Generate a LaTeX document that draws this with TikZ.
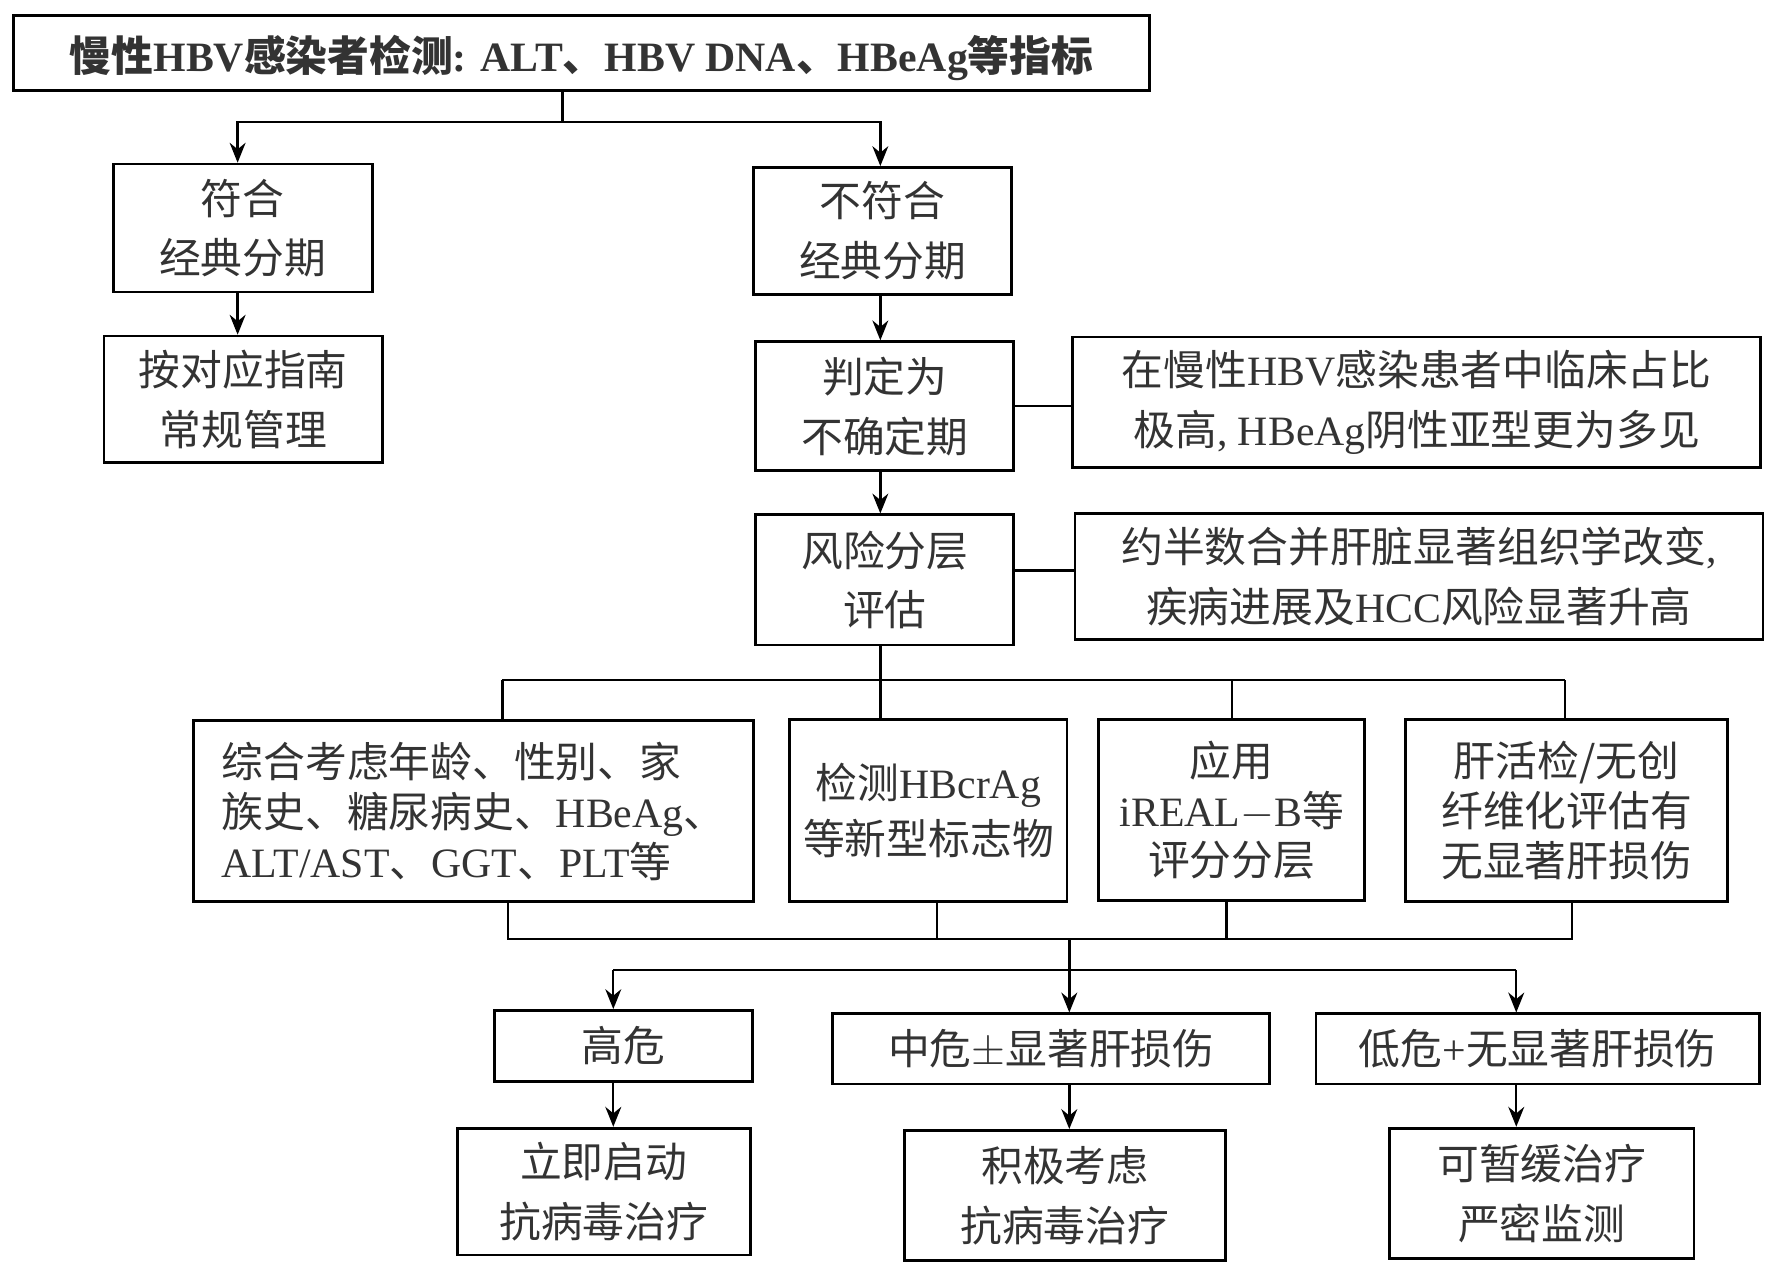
\documentclass[tikz,border=0pt]{standalone}
\usepackage{fontspec}
\setmainfont{Liberation Serif}
\newfontfamily\cjk{Noto Sans CJK SC}
\newcommand{\zh}[1]{{\cjk #1}}
\usetikzlibrary{arrows.meta}
\definecolor{tx}{HTML}{333333}
\begin{document}
\begin{tikzpicture}[x=0.01cm,y=-0.01cm,
  bx/.style={draw,line width=0.7pt,text=tx,align=center,font=\fontsize{10.5}{15}\selectfont},
  ar/.style={-{Stealth[length=5pt,width=4pt]},line width=0.6pt},
  ln/.style={line width=0.6pt}]
\useasboundingbox (0,0) rectangle (1566,1126);
\node[bx,minimum width=1004*0.01cm,minimum height=66*0.01cm,font=\fontsize{10.5}{12}\bfseries\selectfont,text depth=0pt] (top) at (514,47) {\zh{慢性}HBV\zh{感染者检测}: ALT\zh{、}HBV DNA\zh{、}HBeAg\zh{等指标}};
\node[bx,minimum width=229*0.01cm,minimum height=113*0.01cm] (fit) at (214.5,201.5) {\zh{符合}\\\zh{经典分期}};
\node[bx,minimum width=246*0.01cm,minimum height=112*0.01cm] (guide) at (215,353) {\zh{按对应指南}\\\zh{常规管理}};
\node[bx,minimum width=228*0.01cm,minimum height=112*0.01cm] (notfit) at (780,204) {\zh{不符合}\\\zh{经典分期}};
\node[bx,minimum width=228*0.01cm,minimum height=114*0.01cm] (indet) at (782,359) {\zh{判定为}\\\zh{不确定期}};
\node[bx,minimum width=608*0.01cm,minimum height=111*0.01cm] (n1) at (1252,355.5) {\zh{在慢性}HBV\zh{感染患者中临床占比}\\\zh{极高}, HBeAg\zh{阴性亚型更为多见}};
\node[bx,minimum width=228*0.01cm,minimum height=115*0.01cm] (risk) at (782,512.5) {\zh{风险分层}\\\zh{评估}};
\node[bx,minimum width=608*0.01cm,minimum height=111*0.01cm] (n2) at (1254,509.5) {\zh{约半数合并肝脏显著组织学改变},\\\zh{疾病进展及}HCC\zh{风险显著升高}};
\node[bx,align=left,minimum width=495*0.01cm,minimum height=160*0.01cm,font=\fontsize{10.5}{12.5}\selectfont] (b1) at (418.5,717) {\zh{综合考虑年龄、性别、家}\\\zh{族史、糖尿病史、}HBeAg\zh{、}\\ALT/AST\zh{、}GGT\zh{、}PLT\zh{等}};
\node[bx,minimum width=241*0.01cm,minimum height=161*0.01cm,font=\fontsize{10.5}{14}\selectfont] (b2) at (820.5,716.5) {\zh{检测}HBcrAg\\\zh{等新型标志物}};
\node[bx,minimum width=235*0.01cm,minimum height=160*0.01cm,font=\fontsize{10.5}{12.5}\selectfont] (b3) at (1088.5,716) {\zh{应用}\\iREAL$-$B\zh{等}\\\zh{评分分层}};
\node[bx,minimum width=285*0.01cm,minimum height=161*0.01cm,font=\fontsize{10.5}{12.5}\selectfont] (b4) at (1384.5,716.5) {\zh{肝活检/无创}\\\zh{纤维化评估有}\\\zh{无显著肝损伤}};
\node[bx,minimum width=228*0.01cm,minimum height=63*0.01cm] (hi) at (551,924.5) {\zh{高危}};
\node[bx,minimum width=386*0.01cm,minimum height=62*0.01cm] (mid) at (929,927) {\zh{中危}$\pm$\zh{显著肝损伤}};
\node[bx,minimum width=392*0.01cm,minimum height=62*0.01cm] (low) at (1359,927) {\zh{低危}+\zh{无显著肝损伤}};
\node[bx,minimum width=259*0.01cm,minimum height=112*0.01cm] (r1) at (533.5,1053) {\zh{立即启动}\\\zh{抗病毒治疗}};
\node[bx,minimum width=284*0.01cm,minimum height=115*0.01cm] (r2) at (941,1056.5) {\zh{积极考虑}\\\zh{抗病毒治疗}};
\node[bx,minimum width=269*0.01cm,minimum height=115*0.01cm] (r3) at (1362.5,1054.5) {\zh{可暂缓治疗}\\\zh{严密监测}};
% connectors
\coordinate (t1) at (497,108);
\draw[ln] (top.south -| t1) -- (t1);
\draw[ar] (t1) -| (fit.north -| 210,0);
\draw[ar] (t1) -| (notfit.north -| 778,0);
\draw[ar] (fit.south -| 210,0) -- (guide.north -| 210,0);
\draw[ar] (notfit.south -| 778,0) -- (indet.north -| 778,0);
\draw[ar] (indet.south -| 778,0) -- (risk.north -| 778,0);
\draw[ln] (indet.east |- 0,359) -- (n1.west |- 0,359);
\draw[ln] (risk.east |- 0,504) -- (n2.west |- 0,504);
\coordinate (s) at (778,601);
\draw[ln] (risk.south -| s) -- (b2.north -| s);
\draw[ln] (444,601) -- (1383,601);
\draw[ln] (444,601) -- (b1.north -| 444,0);
\draw[ln] (1089,601) -- (b3.north -| 1089,0);
\draw[ln] (1383,601) -- (b4.north -| 1383,0);
\draw[ln] (b1.south -| 449,0) -- (449,830) -- (1389,830) -- (b4.south -| 1389,0);
\draw[ln] (b2.south -| 828,0) -- (828,830);
\draw[ln] (b3.south -| 1084,0) -- (1084,830);
\draw[ln] (945,830) -- (945,857);
\draw[ln] (542,857) -- (1340,857);
\draw[ar] (542,857) -- (hi.north -| 542,0);
\draw[ar] (945,857) -- (mid.north -| 945,0);
\draw[ar] (1340,857) -- (low.north -| 1340,0);
\draw[ar] (hi.south -| 542,0) -- (r1.north -| 542,0);
\draw[ar] (mid.south -| 945,0) -- (r2.north -| 945,0);
\draw[ar] (low.south -| 1340,0) -- (r3.north -| 1340,0);
\end{tikzpicture}
\end{document}
